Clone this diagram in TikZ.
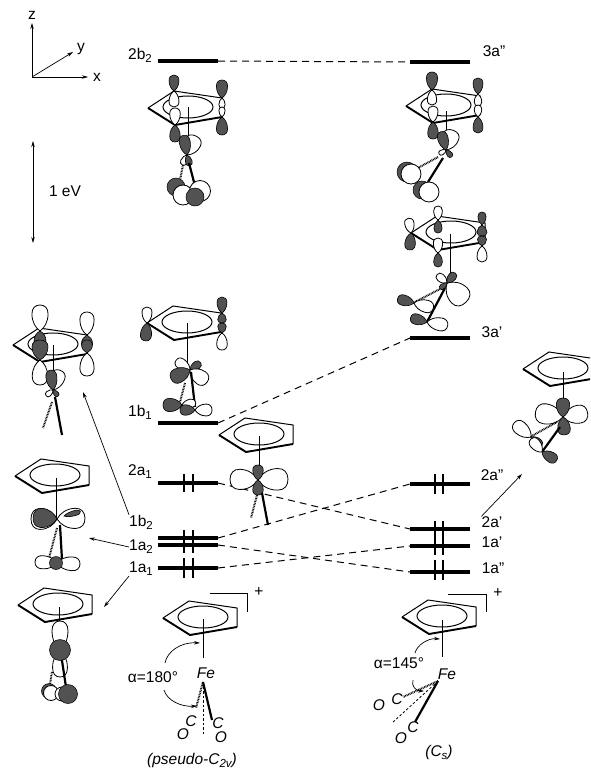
\documentclass[tikz,border=0pt]{standalone}
\usepackage{fontspec}
\setmainfont{Liberation Sans}
\usetikzlibrary{arrows.meta}

\definecolor{shade}{gray}{0.32}

\tikzset{
  levelbar/.style={line width=3.2pt},
  eltick/.style={line width=1.2pt},
  corr/.style={dashed,dash pattern=on 7pt off 5pt,line width=1pt},
  pointer/.style={-{Stealth[length=6pt,width=3.5pt]},line width=.7pt},
  wlobe/.style={draw,line width=.8pt,fill=white},
  dlobe/.style={draw,line width=.6pt,fill=shade},
  stick/.style={line width=.7pt},
  bondsolid/.style={line width=2.2pt},
  bonddot/.style={line width=2pt,dash pattern=on .8pt off .8pt},
  lbl/.style={font=\fontsize{15.5}{17}\selectfont,inner sep=0pt},
  ilbl/.style={font=\fontsize{15.5}{17}\selectfont\itshape,inner sep=0pt},
  cpring/.pic={
    \draw[line width=1pt,fill=white] (0,0) -- (26,-17) -- (74,-10) -- (74,9);
    \draw[line width=1.9pt] (0,0) -- (27,17) -- (74,9);
    \draw[line width=1pt] (40,-1) ellipse (25 and 11);
  }
}
% [width ratio]{x}{y}{angle}{length}{style}
\newcommand{\lobe}[6][.62]{
  \path[#6,shift={(#2,#3)},rotate=#4,xscale=#5,yscale={#5*#1}]
    (0,0) .. controls (.12,.28) and (.35,.5) .. (.66,.5)
    .. controls (.88,.5) and (1,.3) .. (1,0)
    .. controls (1,-.3) and (.88,-.5) .. (.66,-.5)
    .. controls (.35,-.5) and (.12,-.28) .. cycle;
}
\newcommand{\lvlsub}[1]{\raisebox{-3pt}{\fontsize{11.5}{12}\selectfont #1}}

\begin{document}
\begin{tikzpicture}[x=1pt,y=-1pt]
\useasboundingbox (0,0) rectangle (590,768);
\clip (0,0) rectangle (590,768);

% axes and scale
\coordinate (orig) at (32,77);
\node[lbl] (zlab) at (32,15) {z};
\node[lbl] (ylab) at (81,49) {y};
\node[lbl] (xlab) at (97,77) {x};
\draw[pointer] (orig) -- (32,23);
\draw[pointer] (orig) -- (73,52);
\draw[pointer] (orig) -- (88,77);
\coordinate (evtop) at (33,141);
\coordinate (evbot) at (33,243);
\draw[{Stealth[length=6pt,width=3.5pt]}-{Stealth[length=6pt,width=3.5pt]},line width=.8pt] (evtop) -- (evbot);
\node[lbl] (evlab) at (65,191) {1 eV};

% levels
\foreach \nm/\yy in {2b2/61,1b1/423,2a1/483,1b2/538,1a2/545,1a1/568}{
  \coordinate (\nm) at (218,\yy);
  \draw[levelbar] (158,\yy) -- (\nm);
}
\foreach \nm/\yy in {3app/62,3ap/338,2app/484,2ap/529,1ap/546,1app/572}{
  \coordinate (\nm) at (410,\yy);
  \draw[levelbar] (\nm) -- (470,\yy);
}
\foreach \xx in {184,193}{
  \draw[eltick] (\xx,474) -- (\xx,492);
  \draw[eltick] (\xx,530) -- (\xx,553);
  \draw[eltick] (\xx,558) -- (\xx,578);
}
\foreach \xx in {435,443}{
  \draw[eltick] (\xx,474) -- (\xx,494);
  \draw[eltick] (\xx,521) -- (\xx,555);
  \draw[eltick] (\xx,560) -- (\xx,580);
}
\draw[corr] (2b2) -- (3app);
\draw[corr] (1b1) -- (3ap);
\draw[corr] (2a1) -- (2ap);
\draw[corr] (1b2) -- (2app);
\draw[corr] (1a2) -- (1app);
\draw[corr] (1a1) -- (1ap);

% level labels
\node[lbl] (l2b2) at (140,55) {2b\lvlsub{2}};
\node[lbl] (l1b1) at (140,412) {1b\lvlsub{1}};
\node[lbl] (l2a1) at (140,472) {2a\lvlsub{1}};
\node[lbl] (l1b2) at (141,522) {1b\lvlsub{2}};
\node[lbl] (l1a2) at (141,547) {1a\lvlsub{2}};
\node[lbl] (l1a1) at (141,569) {1a\lvlsub{1}};
\node[lbl] (l3app) at (494,51) {3a"};
\node[lbl] (l3ap) at (492,332) {3a'};
\node[lbl] (l2app) at (492,475) {2a"};
\node[lbl] (l2ap) at (492,522) {2a'};
\node[lbl] (l1ap) at (492,542) {1a'};
\node[lbl] (l1app) at (493,568) {1a"};

% arrows to the orbital drawings
\coordinate (t1b2) at (83,392);
\coordinate (t1a2) at (89,538);
\coordinate (t1a1) at (104,607);
\coordinate (t2ap) at (522,474);
\draw[pointer] (l1b2.north west) -- (t1b2);
\draw[pointer] (l1a2.west) -- (t1a2);
\draw[pointer] (l1a1.south west) -- (t1a1);
\draw[pointer] (l2ap.north west) -- (t2ap);

% 2b2
\draw[stick] (188,107) -- (188,150);
\pic at (148,108) {cpring};
\draw[stick] (188,107) -- (188,125);
\lobe{174}{91}{-90}{16}{wlobe}
\lobe{175}{125}{90}{17}{wlobe}
\lobe{222}{98}{-90}{10}{wlobe}
\lobe{222}{117}{90}{10}{wlobe}
\lobe{174}{91}{90}{16}{dlobe}
\lobe{175}{125}{-90}{17}{dlobe}
\lobe{222}{98}{90}{18}{dlobe}
\lobe{222}{117}{-90}{18}{dlobe}
\lobe[.8]{187}{155}{65}{21}{wlobe}
\lobe[.55]{187}{155}{100}{20}{dlobe}
\lobe{187}{155}{-115}{11}{wlobe}
\lobe{187}{155}{-75}{11}{dlobe}
\draw[bondsolid] (189,163) -- (195,186);
\draw[bonddot] (183,165) -- (180,180);
\draw[line width=.5pt,fill=shade] (176,187) circle (9);
\draw[line width=.8pt,fill=white] (183,195) circle (10);
\draw[line width=.8pt,fill=white] (200,191) circle (10.5);
\draw[line width=.5pt,fill=shade] (195,197) circle (9);

% 3a"
\draw[stick] (446,108) -- (446,150);
\pic at (406,106) {cpring};
\lobe{432}{90}{-90}{15}{wlobe}
\lobe{433}{122}{90}{16}{wlobe}
\lobe{478}{94}{-90}{12}{wlobe}
\lobe{478}{117}{90}{12}{wlobe}
\lobe{432}{90}{90}{18}{dlobe}
\lobe{433}{122}{-90}{17}{dlobe}
\lobe{478}{94}{90}{16}{dlobe}
\lobe{478}{117}{-90}{16}{dlobe}
\lobe[.8]{446}{150}{70}{21}{wlobe}
\lobe[.55]{446}{150}{105}{19}{dlobe}
\lobe{446}{150}{-150}{8}{wlobe}
\lobe{446}{150}{-50}{9}{dlobe}
\draw[bonddot] (438,157) -- (418,168);
\draw[bondsolid] (443,158) -- (428,182);
\draw[line width=.5pt,fill=shade] (407,172) circle (10);
\draw[line width=.8pt,fill=white] (411,174) circle (10);
\draw[line width=.5pt,fill=shade] (422,190) circle (9);
\draw[line width=.8pt,fill=white] (429,192) circle (10);

% 3a'
\draw[stick] (450,238) -- (450,283);
\pic at (411,233) {cpring};
\draw[stick] (450,234) -- (450,250);
\lobe{411}{233}{100}{15}{wlobe}
\lobe{411}{233}{-95}{17}{dlobe}
\lobe{438}{220}{90}{14}{wlobe}
\lobe{438}{220}{-90}{13}{dlobe}
\lobe{438}{253}{90}{15}{wlobe}
\lobe{438}{253}{-90}{14}{dlobe}
\lobe{482}{225}{90}{13}{dlobe}
\lobe[.9]{482}{225}{-90}{11}{dlobe}
\lobe[.9]{482}{246}{90}{10}{dlobe}
\lobe{482}{246}{-90}{16}{wlobe}
\lobe[.8]{447}{283}{-45}{27}{wlobe}
\lobe{447}{283}{140}{13}{wlobe}
\lobe{447}{283}{50}{13}{dlobe}
\lobe{447}{283}{-140}{9}{dlobe}
\draw[bonddot] (440,289) -- (413,303);
\draw[bondsolid] (445,288) -- (427,322);
\lobe{414}{303}{-15}{20}{wlobe}
\lobe{414}{303}{165}{17}{dlobe}
\lobe{427}{322}{-10}{21}{wlobe}
\lobe{427}{322}{165}{17}{dlobe}

% 1b2 drawing
\draw[stick] (53,345) -- (53,375);
\pic at (13,345) {cpring};
\draw[stick] (53,345) -- (53,362);
\lobe{40}{331}{90}{26}{wlobe}
\lobe{40}{360}{-90}{25}{wlobe}
\lobe{87}{335}{90}{23}{wlobe}
\lobe{87}{353}{-90}{23}{wlobe}
\lobe[.8]{40}{331}{-90}{15}{dlobe}
\lobe[.8]{40}{360}{90}{20}{dlobe}
\lobe[.85]{87}{335}{-90}{13}{dlobe}
\lobe[.85]{87}{353}{90}{13}{dlobe}
\lobe[.7]{53}{390}{70}{21}{wlobe}
\lobe[.55]{53}{390}{97}{20}{dlobe}
\lobe{53}{390}{-140}{9}{wlobe}
\lobe{53}{390}{-50}{8}{dlobe}
\draw[bonddot] (52,402) -- (43,428);
\draw[bondsolid] (55,397) -- (62,435);

% 1b1 drawing
\draw[stick] (187,323) -- (187,370);
\pic at (147,323) {cpring};
\draw[stick] (187,323) -- (187,345);
\lobe{147}{323}{90}{16}{wlobe}
\lobe{147}{323}{-95}{18}{dlobe}
\lobe{222}{313}{90}{16}{dlobe}
\lobe[.85]{222}{313}{-90}{10}{dlobe}
\lobe[.85]{222}{333}{90}{10}{dlobe}
\lobe{222}{333}{-90}{17}{wlobe}
\lobe{190}{370}{35}{13}{dlobe}
\lobe{190}{370}{145}{17}{wlobe}
\lobe[.7]{190}{370}{-35}{21}{wlobe}
\lobe[.7]{190}{370}{-155}{21}{dlobe}
\draw[bondsolid] (191,372) -- (195,407);
\draw[bonddot] (185,383) -- (180,402);
\lobe{182}{405}{10}{14}{wlobe}
\lobe[.7]{182}{405}{180}{19}{dlobe}
\lobe[.7]{195}{410}{0}{17}{wlobe}
\lobe[.7]{195}{410}{180}{15}{dlobe}

% 2a1 drawing
\draw[stick] (259,436) -- (259,468);
\pic at (219,435) {cpring};
\draw[stick] (259,436) -- (259,452);
\lobe[.72]{258}{480}{178}{28}{wlobe}
\lobe[.72]{258}{480}{2}{30}{wlobe}
\lobe[.7]{258}{480}{90}{15}{dlobe}
\lobe[.7]{258}{480}{-90}{15}{dlobe}
\draw[bonddot] (257,495) -- (251,518);
\draw[bondsolid] (262,493) -- (268,525);

% 1a2 drawing
\draw[stick] (56,478) -- (56,518);
\pic at (15,476) {cpring};
\draw[stick] (56,478) -- (56,490);
\lobe[.72]{57}{519}{2}{28}{wlobe}
\lobe[.8]{57}{519}{180}{26}{wlobe}
\lobe[.8]{57}{519}{176}{24}{dlobe}
\lobe[.3]{64}{516}{15}{17}{dlobe}
\draw[bonddot] (57,528) -- (49,558);
\draw[bondsolid] (60,525) -- (62,560);
\lobe[.6]{57}{563}{177}{22}{wlobe}
\lobe[.6]{57}{563}{-3}{23}{wlobe}
\draw[line width=.5pt,fill=shade] (56,563) circle (6.5);

% 1a1 drawing
\draw[stick] (59,607) -- (59,622);
\pic at (18,605) {cpring};
\draw[stick] (59,607) -- (59,620);
\lobe[.55]{60}{650}{90}{29}{wlobe}
\lobe[.55]{60}{650}{-90}{27}{wlobe}
\draw[bonddot] (52,672) -- (50,684);
\draw[bondsolid] (61,654) -- (66,687);
\draw[line width=.5pt,fill=shade] (60,650) circle (10.5);
\draw[line width=.5pt,fill=shade] (49,691) circle (7.5);
\draw[line width=.8pt,fill=white] (51,693) circle (7.5);
\draw[line width=.8pt,fill=white] (62,694) circle (7);
\draw[line width=.5pt,fill=shade] (68,694) circle (9.5);

% 2a" drawing
\draw[stick] (563,372) -- (563,400);
\pic at (523,369) {cpring};
\draw[stick] (563,372) -- (563,385);
\lobe[.72]{563}{417}{170}{28}{wlobe}
\lobe[.72]{563}{417}{10}{25}{wlobe}
\lobe[.7]{563}{417}{90}{19}{dlobe}
\lobe[.7]{563}{417}{-85}{18}{dlobe}
\draw[bonddot] (557,422) -- (530,437);
\draw[bondsolid] (560,427) -- (542,452);
\lobe{531}{437}{140}{22}{wlobe}
\lobe{531}{437}{-40}{14}{dlobe}
\lobe{542}{452}{130}{17}{wlobe}
\lobe{542}{452}{-30}{17}{dlobe}

% alpha=180 complex
\draw[stick] (203,619) -- (203,658);
\pic at (163,618) {cpring};
\draw[stick] (203,619) -- (203,635);
\coordinate (br1a) at (210,593);
\coordinate (br1b) at (247,593);
\coordinate (br1c) at (247,612);
\draw[line width=.9pt] (br1a) -- (br1b) -- (br1c);
\node[lbl] (plus1) at (259,592) {+};
\node[ilbl] (fe1) at (206,673) {Fe};
\node[lbl] (alpha1) at (153,677) {α=180°};
\coordinate (fe1b) at (203,682);
\coordinate (arc1a) at (165,663);
\coordinate (arc1b) at (200,643);
\coordinate (arc1c) at (164,690);
\coordinate (arc1d) at (197,706);
\draw[pointer] (arc1a) .. controls (167,652) and (180,642) .. (arc1b);
\draw[pointer] (arc1c) .. controls (167,700) and (180,707) .. (arc1d);
\draw[bondsolid] (fe1b) -- (212,720);
\draw[bonddot] (fe1b) -- (196,708);
\draw[dashed,dash pattern=on 2.5pt off 2pt,line width=.8pt] (fe1b) -- (203,735);
\node[ilbl] (c1l) at (191,721) {C};
\node[ilbl] (c1r) at (218,723) {C};
\node[ilbl] (o1l) at (183,734) {O};
\node[ilbl] (o1r) at (221,737) {O};
\node[ilbl] (sym1) at (192,760) {(pseudo-C\lvlsub{2v})};

% alpha=145 complex
\draw[stick] (442,620) -- (442,657);
\pic at (402,617) {cpring};
\draw[stick] (442,620) -- (442,636);
\coordinate (br2a) at (448,594);
\coordinate (br2b) at (486,594);
\coordinate (br2c) at (486,612);
\draw[line width=.9pt] (br2a) -- (br2b) -- (br2c);
\node[lbl] (plus2) at (498,593) {+};
\node[ilbl] (fe2) at (447,674) {Fe};
\node[lbl] (alpha2) at (399,663) {α=145°};
\coordinate (fe2b) at (438,681);
\coordinate (arc2a) at (415,653);
\coordinate (arc2b) at (440,639);
\coordinate (arc2c) at (413,680);
\coordinate (arc2d) at (424,691);
\draw[pointer] (arc2a) .. controls (417,645) and (428,638) .. (arc2b);
\draw[pointer] (arc2c) .. controls (411,686) and (416,691) .. (arc2d);
\draw[bonddot] (fe2b) -- (403,697);
\draw[dashed,dash pattern=on 2.5pt off 2pt,line width=.8pt] (fe2b) -- (392,723);
\draw[bondsolid] (fe2b) -- (415,722);
\node[ilbl] (c2l) at (397,699) {C};
\node[ilbl] (o2l) at (379,705) {O};
\node[ilbl] (c2r) at (413,727) {C};
\node[ilbl] (o2r) at (401,738) {O};
\node[ilbl] (sym2) at (439,752) {(C\lvlsub{s})};
\end{tikzpicture}
\end{document}
